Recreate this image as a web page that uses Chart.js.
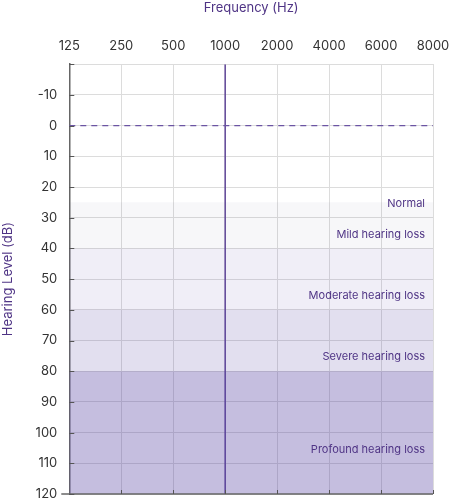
<!DOCTYPE html>
<html>
<head>
<meta charset="utf-8">
<script src="https://cdn.jsdelivr.net/npm/chart.js@4/dist/chart.umd.min.js"></script>
<style>
  html, body { margin: 0; padding: 0; background: #fff; overflow: hidden; }
</style>
</head>
<body>
<canvas id="myChart" width="451" height="502"></canvas>
<script>
const frequencies = ['125', '250', '500', '1000', '2000', '4000', '6000', '8000'];
const dbTicks = [-20, -10, 0, 10, 20, 30, 40, 50, 60, 70, 80, 90, 100, 110, 120];

// hearing loss bands (dB from .. to)
const bandNames = ['Normal', 'Mild hearing loss', 'Moderate hearing loss', 'Severe hearing loss', 'Profound hearing loss'];
const bandFrom = [-20, 25, 40, 60, 80];
const bandTo = [25, 40, 60, 80, 120];
const bandColors = ['rgba(255,255,255,0)', 'rgba(90,90,140,0.05)', 'rgba(80,60,160,0.088)', 'rgba(80,60,160,0.163)', 'rgba(80,60,160,0.335)'];
const bandLabelAt = [25.5, 35.5, 55.3, 75.3, 105.5];

const markedFreq = '1000';
const referenceDb = 0;

const purple = '#4f3485';
const lastX = frequencies.length - 1;

const datasets = [];
for (let i = 0; i < bandNames.length; i++) {
  datasets.push({
    label: bandNames[i],
    data: [{ x: 0, y: bandTo[i] }, { x: lastX, y: bandTo[i] }],
    borderWidth: 0,
    pointRadius: 0,
    backgroundColor: bandColors[i],
    fill: { value: bandFrom[i] }
  });
}
datasets.push({
  label: 'ref',
  data: [{ x: 0, y: referenceDb }, { x: lastX, y: referenceDb }],
  borderColor: '#6b54a3',
  borderWidth: 1.2,
  borderDash: [6, 5],
  pointRadius: 0,
  fill: false
});
const fx = frequencies.indexOf(markedFreq);
datasets.push({
  label: 'marker',
  data: [{ x: fx, y: dbTicks[0] }, { x: fx, y: dbTicks[dbTicks.length - 1] }],
  borderColor: '#5e4496',
  borderWidth: 1.5,
  pointRadius: 0,
  fill: false
});

const bandText = {
  id: 'bandText',
  afterDatasetsDraw(chart) {
    const ctx = chart.ctx;
    const xs = chart.scales.x, ys = chart.scales.y;
    ctx.save();
    ctx.font = '11px Inter, "Noto Sans", sans-serif';
    ctx.fillStyle = purple;
    ctx.textAlign = 'right';
    ctx.textBaseline = 'middle';
    for (let i = 0; i < bandNames.length; i++) {
      ctx.fillText(bandNames[i], xs.getPixelForValue(lastX) - 8, ys.getPixelForValue(bandLabelAt[i]));
    }
    const left = chart.chartArea.left, right = chart.chartArea.right, bottom = chart.chartArea.bottom;
    // bottom axis line
    ctx.strokeStyle = '#666';
    ctx.lineWidth = 1.5;
    ctx.beginPath();
    ctx.moveTo(left - 8, bottom);
    ctx.lineTo(right, bottom);
    ctx.stroke();
    // small inward tick marks
    ctx.strokeStyle = '#555';
    ctx.lineWidth = 1;
    ctx.beginPath();
    dbTicks.forEach(v => {
      const y = Math.round(ys.getPixelForValue(v)) + 0.5;
      ctx.moveTo(left, y);
      ctx.lineTo(left + 5, y);
    });
    for (let i = 1; i < frequencies.length; i++) {
      const x = Math.round(xs.getPixelForValue(i)) + 0.5;
      ctx.moveTo(x, bottom);
      ctx.lineTo(x, bottom - 4);
    }
    ctx.stroke();
    ctx.restore();
  }
};

const tickFont = { family: 'Inter, "Noto Sans", sans-serif', size: 13 };

new Chart(document.getElementById('myChart').getContext('2d'), {
  type: 'line',
  data: { datasets: datasets },
  options: {
    responsive: false,
    animation: false,
    layout: { padding: { top: 0, right: 18, bottom: 8, left: 0 } },
    plugins: { legend: { display: false }, tooltip: { enabled: false } },
    scales: {
      x: {
        type: 'linear',
        position: 'top',
        min: 0,
        max: lastX,
        afterBuildTicks: s => { s.ticks = frequencies.map((f, i) => ({ value: i })); },
        afterFit: s => { s.paddingLeft = 0; s.paddingRight = 0; },
        ticks: {
          callback: v => frequencies[v],
          color: '#333',
          font: tickFont,
          padding: 10,
          maxRotation: 0
        },
        grid: { color: '#dcdcdc', drawTicks: false },
        border: { display: true, color: '#dcdcdc' },
        title: {
          display: true,
          text: 'Frequency (Hz)',
          color: purple,
          font: { family: 'Inter, "Noto Sans", sans-serif', size: 13 },
          padding: { top: 0, bottom: 13 }
        }
      },
      y: {
        type: 'linear',
        reverse: true,
        min: dbTicks[0],
        max: dbTicks[dbTicks.length - 1],
        afterBuildTicks: s => { s.ticks = dbTicks.map(v => ({ value: v })); },
        afterFit: s => { s.paddingTop = 0; s.paddingBottom = 0; },
        ticks: {
          callback: v => (v === dbTicks[0] ? '' : v),
          color: '#333',
          font: tickFont,
          padding: 12
        },
        grid: { color: '#dcdcdc', drawTicks: false },
        border: { display: true, color: '#666', width: 1.5 },
        title: {
          display: true,
          text: 'Hearing Level (dB)',
          color: purple,
          font: { family: 'Inter, "Noto Sans", sans-serif', size: 13 },
          padding: { top: 0, bottom: 8 }
        }
      }
    }
  },
  plugins: [bandText]
});
</script>
</body>
</html>
